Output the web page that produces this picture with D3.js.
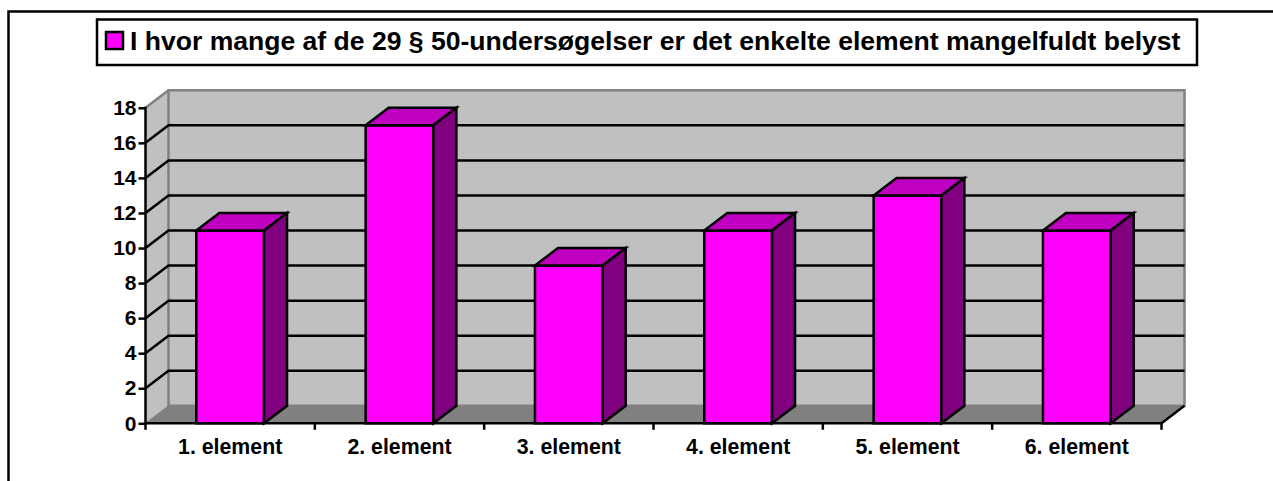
<!DOCTYPE html>
<html>
<head>
<meta charset="utf-8">
<script src="https://cdnjs.cloudflare.com/ajax/libs/d3/7.8.5/d3.min.js"></script>
<style>
  html, body { margin: 0; background: #fff; }
  svg { display: block; }
  text { font-family: "Liberation Sans", Arial, sans-serif; font-weight: bold; fill: #000; }
</style>
</head>
<body>
<div id="chart"></div>
<script>
// Chart data
var categories = ["1. element", "2. element", "3. element", "4. element", "5. element", "6. element"];
var values = [11, 17, 9, 11, 13, 11];
var yTicks = [0, 2, 4, 6, 8, 10, 12, 14, 16, 18];
var legendLabel = "I hvor mange af de 29 § 50-undersøgelser er det enkelte element mangelfuldt belyst";

var barColor = "#FF00FF", topColor = "#C000C0", sideColor = "#800080";
var wallColor = "#C0C0C0", floorColor = "#808080";

var width = 1273, height = 481;
var svg = d3.select("#chart").append("svg")
    .attr("width", width)
    .attr("height", height);

// Outer frame, only left and top edges are in the picture
svg.append("path")
    .attr("d", "M8.5," + height + "V11.5H" + width)
    .attr("fill", "none")
    .attr("stroke", "#000")
    .attr("stroke-width", 2.5);

/*   Scales   */
var x = d3.scaleBand()
    .domain(categories)
    .range([145.5, 1161.5])
    .paddingInner(0.6)
    .paddingOuter(0.3);

var y = d3.scaleLinear()
    .domain([0, 18])
    .range([423.3, 107.8]);

// Offset of the back of the 3D box
var depthX = 23, depthY = 17.5;

var x0 = x.range()[0], x1 = x.range()[1];
var yBase = y(0), yTop = y(18);

/*   Walls and floor   */
svg.append("path") // left wall
    .attr("d", d3.line()([[x0, yBase], [x0 + depthX, yBase - depthY], [x0 + depthX, yTop - depthY], [x0, yTop]]) + "Z")
    .attr("fill", wallColor);

svg.append("rect") // back wall
    .attr("x", x0 + depthX)
    .attr("y", yTop - depthY)
    .attr("width", x1 - x0)
    .attr("height", yBase - yTop)
    .attr("fill", wallColor)
    .attr("stroke", floorColor)
    .attr("stroke-width", 2.5);

svg.append("path") // floor
    .attr("d", d3.line()([[x0, yBase], [x1, yBase], [x1 + depthX, yBase - depthY], [x0 + depthX, yBase - depthY]]) + "Z")
    .attr("fill", floorColor)
    .attr("stroke", floorColor)
    .attr("stroke-width", 1);

svg.append("path") // top edge of left wall
    .attr("d", d3.line()([[x0, yTop], [x0 + depthX, yTop - depthY]]))
    .attr("stroke", floorColor)
    .attr("stroke-width", 2.5);

/*   Gridlines   */
var gridValues = yTicks.filter(function (d) { return d > 0 && d < 18; });

svg.append("g")
    .selectAll("path")
    .data(gridValues)
    .enter()
    .append("path")
    .attr("d", function (d) {
        return d3.line()([[x0, y(d)], [x0 + depthX, y(d) - depthY], [x1 + depthX, y(d) - depthY]]);
    })
    .attr("fill", "none")
    .attr("stroke", "#000")
    .attr("stroke-width", 2.5);

/*   Bars   */
var bars = svg.append("g")
    .selectAll("g")
    .data(values)
    .enter()
    .append("g");

function barLeft(d, i) { return x(categories[i]); }
function barRight(d, i) { return x(categories[i]) + x.bandwidth(); }

bars.append("rect")
    .attr("x", barLeft)
    .attr("y", function (d) { return y(d); })
    .attr("width", x.bandwidth())
    .attr("height", function (d) { return yBase - y(d); })
    .attr("fill", barColor)
    .attr("stroke", "#000")
    .attr("stroke-width", 2.5);

bars.append("path") // top face
    .attr("d", function (d, i) {
        return d3.line()([
            [barLeft(d, i), y(d)], [barLeft(d, i) + depthX, y(d) - depthY],
            [barRight(d, i) + depthX, y(d) - depthY], [barRight(d, i), y(d)]
        ]) + "Z";
    })
    .attr("fill", topColor)
    .attr("stroke", "#000")
    .attr("stroke-width", 2.5);

bars.append("path") // side face
    .attr("d", function (d, i) {
        return d3.line()([
            [barRight(d, i), y(d)], [barRight(d, i) + depthX, y(d) - depthY],
            [barRight(d, i) + depthX, yBase - depthY], [barRight(d, i), yBase]
        ]) + "Z";
    })
    .attr("fill", sideColor)
    .attr("stroke", "#000")
    .attr("stroke-width", 2.5);

/*   Axes   */
var yAxis = d3.axisLeft(y)
    .tickValues(yTicks)
    .tickSize(7)
    .tickPadding(2)
    .tickFormat(d3.format("d"));

var yG = svg.append("g")
    .attr("transform", "translate(" + x0 + ",0)")
    .call(yAxis);
yG.select(".domain").attr("stroke-width", 2.5).attr("d", "M0," + (yTop - 1) + "V" + (yBase + 1));
yG.selectAll(".tick line").attr("stroke-width", 2.5);
yG.selectAll("text").style("font-size", "21px").style("font-family", null);

var xAxis = d3.axisBottom(x)
    .tickSize(0)
    .tickPadding(16);

var xG = svg.append("g")
    .attr("transform", "translate(0," + yBase + ")")
    .call(xAxis);
xG.select(".domain").remove();
xG.selectAll("text").style("font-size", "21.3px").style("font-family", null);

// Baseline, right floor edge and ticks between the categories
svg.append("path")
    .attr("d", d3.line()([[x0, yBase], [x1, yBase], [x1 + depthX, yBase - depthY]]))
    .attr("fill", "none")
    .attr("stroke", "#000")
    .attr("stroke-width", 2.5);

svg.append("g")
    .selectAll("line")
    .data(d3.range(categories.length + 1))
    .enter()
    .append("line")
    .attr("x1", function (d) { return x0 + d * x.step(); })
    .attr("x2", function (d) { return x0 + d * x.step(); })
    .attr("y1", yBase)
    .attr("y2", yBase + 6.5)
    .attr("stroke", "#000")
    .attr("stroke-width", 2.5);

/*   Legend   */
svg.append("rect")
    .attr("x", 97)
    .attr("y", 19.5)
    .attr("width", 1100)
    .attr("height", 45.5)
    .attr("fill", "#fff")
    .attr("stroke", "#000")
    .attr("stroke-width", 2.5);

svg.append("rect")
    .attr("x", 106)
    .attr("y", 32)
    .attr("width", 17)
    .attr("height", 17)
    .attr("fill", barColor)
    .attr("stroke", "#000")
    .attr("stroke-width", 2.5);

svg.append("text")
    .attr("x", 130)
    .attr("y", 49.5)
    .style("font-size", "26.55px")
    .text(legendLabel);
</script>
</body>
</html>
